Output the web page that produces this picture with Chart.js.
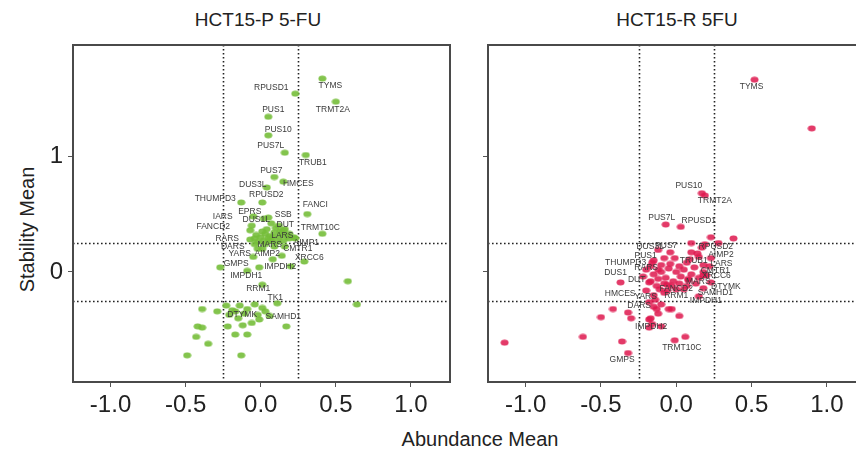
<!DOCTYPE html>
<html>
<head>
<meta charset="utf-8">
<script src="https://cdn.jsdelivr.net/npm/chart.js@4.4.0/dist/chart.umd.min.js"></script>
<style>
  body { margin: 0; width: 856px; height: 452px; overflow: hidden; background: #fff; position: relative;
         font-family: "Liberation Sans", Arial, sans-serif; color: #222; }
  canvas { position: absolute; top: 0; }
  #leftChart { left: 0; }
  #rightChart { left: 460px; }
  .ptitle { position: absolute; top: 9px; font-size: 19px; width: 300px; text-align: center; }
  #t1 { left: 108px; }
  #t2 { left: 527px; }
  #ylab { position: absolute; left: -48px; top: 218px; width: 150px; text-align: center; font-size: 20px;
          transform: rotate(-90deg); }
  #xlab { position: absolute; left: 330px; top: 428px; width: 300px; text-align: center; font-size: 20px; }
</style>
</head>
<body>
<div class="ptitle" id="t1">HCT15-P 5-FU</div>
<div class="ptitle" id="t2">HCT15-R 5FU</div>
<div id="ylab">Stability Mean</div>
<div id="xlab">Abundance Mean</div>
<canvas id="leftChart" width="460" height="452"></canvas>
<canvas id="rightChart" width="416" height="452"></canvas>
<script>
// ---- data: HCT15-P 5-FU (labelled genes)
var pGenes = ["TYMS", "RPUSD1", "TRMT2A", "PUS1", "PUS10", "PUS7L", "TRUB1", "PUS7", "HMCES", "DUS3L",
  "RPUSD2", "THUMPD3", "FANCI", "SSB", "EPRS", "IARS", "DUS1L", "FANCD2", "DUT", "TRMT10C", "LARS",
  "RARS", "DARS", "MARS", "AIMP1", "CMTR1", "YARS", "AIMP2", "XRCC6", "GMPS", "IMPDH2", "IMPDH1",
  "RRM1", "TK1", "DTYMK", "SAMHD1"];
var pX = [0.41, 0.23, 0.50, 0.05, 0.05, 0.16, 0.30, 0.09, 0.15, 0.04,
  0.01, -0.13, 0.31, 0.05, 0.02, -0.06, 0.07, -0.07, 0.15, 0.41, 0.19,
  -0.07, -0.04, 0.06, 0.23, 0.16, -0.02, 0.01, 0.29, -0.27, -0.01, -0.09,
  0.01, 0.11, -0.17, 0.17];
var pY = [1.67, 1.54, 1.47, 1.34, 1.18, 1.03, 1.01, 0.82, 0.78, 0.73,
  0.60, 0.60, 0.50, 0.47, 0.46, 0.40, 0.42, 0.36, 0.36, 0.33, 0.29,
  0.28, 0.24, 0.27, 0.29, 0.22, 0.20, 0.20, 0.09, 0.04, 0.04, 0.01,
  -0.11, -0.27, -0.34, -0.47];
// HCT15-P 5-FU (unlabelled genes)
var pOtherX = [0.58, 0.64, -0.39, -0.29, -0.42, -0.39, -0.22, -0.12, -0.06, -0.01, -0.43, -0.17, -0.09,
  -0.35, -0.49, -0.13, -0.23, -0.19, -0.14, -0.09, -0.04, 0.01, 0.03, -0.11, -0.21, -0.02, 0.06, -0.15,
  0.00, 0.03, 0.06, 0.09, 0.12, 0.14, 0.17, 0.02, 0.07, 0.11, 0.15, 0.04, 0.10, -0.03, 0.08, 0.13,
  -0.02, 0.19, 0.05, 0.16, 0.01, 0.12, -0.04, 0.22, 0.09, 0.03, 0.14, 0.08, -0.05, 0.20, -0.05];
var pOtherY = [-0.08, -0.28, -0.32, -0.34, -0.47, -0.48, -0.47, -0.46, -0.44, -0.41, -0.56, -0.54, -0.54,
  -0.62, -0.72, -0.72, -0.29, -0.33, -0.29, -0.32, -0.28, -0.31, -0.34, -0.36, -0.37, -0.37, -0.38, -0.40,
  0.30, 0.33, 0.31, 0.34, 0.30, 0.33, 0.31, 0.27, 0.27, 0.26, 0.27, 0.37, 0.38, 0.32, 0.30, 0.35,
  0.26, 0.33, 0.29, 0.37, 0.35, 0.40, 0.29, 0.30, 0.22, 0.24, 0.14, 0.11, 0.13, 0.05, 0.48];

// ---- data: HCT15-R 5FU (labelled genes)
var rGenes = ["TYMS", "PUS10", "TRMT2A", "PUS7L", "RPUSD1", "DUS3L", "PUS7", "RPUSD2", "AIMP2", "PUS1",
  "THUMPD3", "TRUB1", "RARS", "LARS", "CMTR1", "XRCC6", "DUS1", "DUT", "MARS", "DTYMK", "HMCES",
  "FANCD2", "SAMHD1", "YARS", "RRM1", "IMPDH1", "DARS", "IMPDH2", "TRMT10C", "GMPS"];
var rX = [0.52, 0.17, 0.19, -0.07, 0.03, -0.12, -0.04, 0.19, 0.23, -0.15,
  -0.17, 0.07, -0.12, 0.22, 0.18, 0.18, -0.37, -0.17, 0.08, 0.23, -0.20,
  -0.06, 0.18, -0.15, -0.08, 0.15, -0.18, -0.18, -0.01, -0.32];
var rY = [1.66, 0.68, 0.66, 0.41, 0.39, 0.19, 0.17, 0.24, 0.12, 0.10,
  0.05, 0.08, 0.02, 0.05, 0.00, -0.03, -0.09, -0.08, -0.07, -0.09, -0.16,
  -0.11, -0.14, -0.20, -0.18, -0.21, -0.26, -0.41, -0.59, -0.70];
// HCT15-R 5FU (unlabelled genes)
var rOtherX = [0.90, 0.23, 0.38, 0.28, 0.10, 0.17, 0.10, 0.15, -0.14, -0.15, -0.42, -0.32, -0.50, -0.30,
  -0.17, -0.05, -0.03, 0.02, -0.18, -0.10, -0.62, -0.36, 0.06, -1.14,
  -0.20, -0.15, -0.10, -0.05, 0.00, 0.05, -0.12, -0.07, -0.02, 0.03, 0.08, -0.18, -0.13, -0.08, -0.03,
  0.02, 0.07, 0.10, -0.10, -0.04, 0.02, 0.12, 0.15, -0.22, -0.16, 0.00, -0.06, 0.05, 0.13, -0.11,
  0.18, 0.14, 0.09, -0.01, -0.08, 0.20, -0.13, -0.12, -0.10, -0.16];
var rOtherY = [1.24, 0.30, 0.29, 0.25, 0.25, 0.21, 0.17, 0.13, -0.24, -0.30, -0.32, -0.35, -0.39, -0.40,
  -0.40, -0.32, -0.32, -0.38, -0.48, -0.47, -0.56, -0.60, -0.56, -0.61,
  0.02, -0.02, 0.00, 0.03, 0.00, 0.02, -0.06, -0.05, -0.08, -0.04, -0.06, -0.09, -0.12, -0.10, -0.12,
  -0.10, -0.12, -0.02, 0.06, 0.07, 0.05, 0.04, -0.05, -0.04, 0.08, -0.15, -0.16, -0.15, -0.10, -0.15,
  0.06, 0.16, 0.11, 0.12, 0.12, -0.03, -0.32, -0.36, -0.28, -0.45];

// ---- axes
var xTicks = [-1.0, -0.5, 0.0, 0.5, 1.0];
var yTicks = [0, 1];
var cutoffs = [-0.25, 0.25];

// ---- label placement (pixel offsets from the point), layout only
var pLabelOff = {
  TYMS: [8, 7], RPUSD1: [-24, -6], TRMT2A: [-3, 8], PUS1: [5, -7], PUS10: [10, -6], PUS7L: [-14, -7],
  TRUB1: [7, 8], PUS7: [-3, -6], HMCES: [15, 2], DUS3L: [-14, -3], RPUSD2: [4, -8], THUMPD3: [-26, -4],
  FANCI: [8, -9], SSB: [15, -3], EPRS: [-14, -7], IARS: [-29, -9], DUS1L: [-15, -4], FANCD2: [-37, -4],
  DUT: [2, -6], TRMT10C: [-2, -6], LARS: [-7, -3], RARS: [-23, -1], DARS: [-22, 2], MARS: [0, 4],
  AIMP1: [11, 4], CMTR1: [13, 2], YARS: [-18, 5], AIMP2: [5, 5], XRCC6: [5, -4], GMPS: [16, -4],
  IMPDH2: [21, -1], IMPDH1: [-1, 5], RRM1: [-4, 4], TK1: [-2, -6], DTYMK: [7, 3], SAMHD1: [-3, -10]
};
var rLabelOff = {
  TYMS: [-3, 7], PUS10: [-13, -8], TRMT2A: [10, 5], PUS7L: [-4, -7], RPUSD1: [18, -6], DUS3L: [-8, -3],
  PUS7: [-4, -7], RPUSD2: [11, 2], AIMP2: [10, -3], PUS1: [-8, -5], THUMPD3: [-25, -4], TRUB1: [7, -2],
  RARS: [-12, -2], LARS: [12, -3], CMTR1: [12, -1], XRCC6: [13, 0], DUS1: [-5, -10], DUT: [-14, -2],
  MARS: [10, 2], DTYMK: [15, 4], HMCES: [-26, 3], FANCD2: [9, 4], SAMHD1: [12, 4], YARS: [-8, 2],
  RRM1: [12, 3], IMPDH1: [7, 4], DARS: [-10, 4], IMPDH2: [2, 7], TRMT10C: [7, 7], GMPS: [-6, 7]
};

function toPoints(xs, ys) {
  return xs.map(function (x, i) { return { x: x, y: ys[i] }; });
}

// small ellipse used as the point marker
function dotImage(color) {
  var c = document.createElement("canvas");
  c.width = 9;
  c.height = 7;
  var g = c.getContext("2d");
  g.fillStyle = color;
  g.beginPath();
  g.ellipse(4.5, 3.5, 4, 3, 0, 0, Math.PI * 2);
  g.fill();
  return c;
}

// frame, dotted cut-off lines and gene labels
var panelDecor = {
  id: "panelDecor",
  beforeDatasetsDraw: function (chart) {
    var a = chart.chartArea, ctx = chart.ctx;
    var xs = chart.scales.x, ys = chart.scales.y;
    ctx.save();
    ctx.strokeStyle = "#222";
    ctx.lineWidth = 1.6;
    ctx.setLineDash([1.6, 2.4]);
    cutoffs.forEach(function (c) {
      var px = Math.round(xs.getPixelForValue(c)) + 0.5;
      ctx.beginPath(); ctx.moveTo(px, a.top); ctx.lineTo(px, a.bottom); ctx.stroke();
      var py = Math.round(ys.getPixelForValue(c)) + 0.5;
      ctx.beginPath(); ctx.moveTo(a.left, py); ctx.lineTo(a.right, py); ctx.stroke();
    });
    ctx.restore();
  },
  afterDatasetsDraw: function (chart, args, opts) {
    var a = chart.chartArea, ctx = chart.ctx;
    var xs = chart.scales.x, ys = chart.scales.y;
    ctx.save();
    ctx.font = "8.5px 'Liberation Sans', Arial, sans-serif";
    ctx.fillStyle = "#3a3a3a";
    ctx.textAlign = "center";
    ctx.textBaseline = "middle";
    opts.genes.forEach(function (g, i) {
      var off = opts.offsets[g] || [0, -7];
      ctx.fillText(g, xs.getPixelForValue(opts.xs[i]) + off[0], ys.getPixelForValue(opts.ys[i]) + off[1]);
    });
    ctx.strokeStyle = "#4a4a4a";
    ctx.lineWidth = 2;
    ctx.strokeRect(a.left, a.top, a.right - a.left, a.bottom - a.top);
    ctx.restore();
  }
};

function makePanel(id, genes, xs, ys, otherX, otherY, offsets, color, yAxisWidth, showYLabels) {
  var dot = dotImage(color);
  return new Chart(document.getElementById(id), {
    type: "scatter",
    data: {
      datasets: [
        { data: toPoints(otherX, otherY), pointStyle: dot, pointRadius: 4 },
        { data: toPoints(xs, ys), pointStyle: dot, pointRadius: 4 }
      ]
    },
    options: {
      responsive: false,
      animation: false,
      devicePixelRatio: 1,
      layout: { padding: { top: 45, right: 10, left: 0, bottom: 0 } },
      plugins: {
        legend: { display: false },
        tooltip: { enabled: false },
        panelDecor: { genes: genes, xs: xs, ys: ys, offsets: offsets }
      },
      scales: {
        x: {
          type: "linear",
          min: -1.25,
          max: 1.26,
          afterBuildTicks: function (s) { s.ticks = xTicks.map(function (v) { return { value: v }; }); },
          afterFit: function (s) { s.height = 70; },
          border: { display: false },
          grid: { drawOnChartArea: false, drawTicks: true, tickLength: 5, color: "#555" },
          ticks: {
            padding: 4,
            color: "#222",
            font: { size: 24, family: "'Liberation Sans', Arial, sans-serif" },
            callback: function (v) { return v.toFixed(1); }
          }
        },
        y: {
          type: "linear",
          min: -0.95,
          max: 1.96,
          afterBuildTicks: function (s) { s.ticks = yTicks.map(function (v) { return { value: v }; }); },
          afterFit: function (s) { s.width = yAxisWidth; },
          border: { display: false },
          grid: { drawOnChartArea: false, drawTicks: true, tickLength: 5, color: "#555" },
          ticks: {
            display: showYLabels,
            padding: 5,
            color: "#222",
            font: { size: 24, family: "'Liberation Sans', Arial, sans-serif" },
            callback: function (v) { return String(v); }
          }
        }
      }
    },
    plugins: [panelDecor]
  });
}

makePanel("leftChart", pGenes, pX, pY, pOtherX, pOtherY, pLabelOff, "rgba(118,190,58,0.9)", 73, true);
makePanel("rightChart", rGenes, rX, rY, rOtherX, rOtherY, rLabelOff, "rgba(222,24,78,0.85)", 28, false);
</script>
</body>
</html>
